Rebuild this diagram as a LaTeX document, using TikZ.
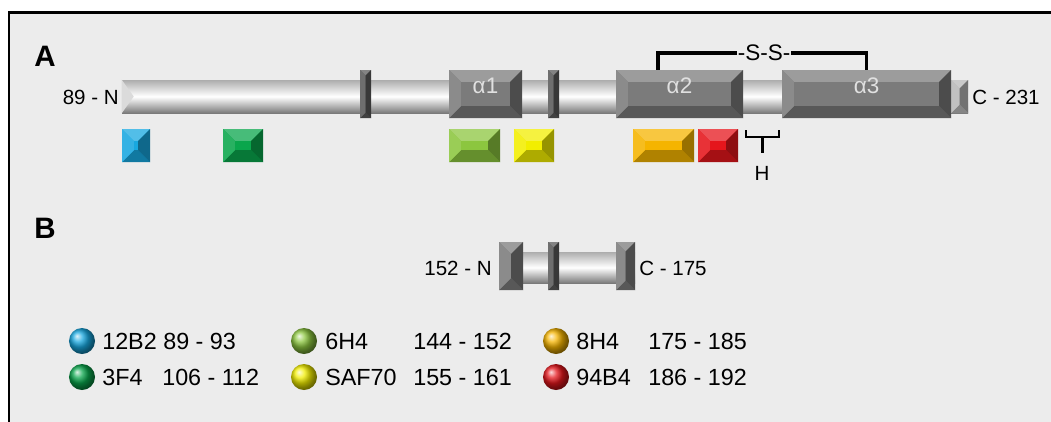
\documentclass[tikz,border=0pt]{standalone}
\usepackage{fontspec}
\setmainfont{Liberation Sans}
\usetikzlibrary{fit, calc}

\definecolor{panelbg}{HTML}{ECECEC}
\definecolor{helixgray}{HTML}{7B7B7B}
\definecolor{loopgray}{HTML}{5A5A5A}
\definecolor{termgray}{HTML}{B8B8B8}
\definecolor{epiblue}{HTML}{18A8E0}
\definecolor{epigreen}{HTML}{0AA64C}
\definecolor{epilime}{HTML}{8CC63F}
\definecolor{epiyellow}{HTML}{F2EE00}
\definecolor{epiorange}{HTML}{F5B400}
\definecolor{epired}{HTML}{E5161C}

\begin{document}
\begin{tikzpicture}[
    x=0.025cm, y=-0.025cm,
    bevel/.style={fill=#1, inner sep=0pt, path picture={
        \fill[#1!75!white] let \p1=(path picture bounding box.south west),
            \p2=(path picture bounding box.north east),
            \n1={min(8.5pt,(\x2-\x1)/2,(\y2-\y1)/2)} in
            (\x1,\y2) -- (\x2,\y2) -- (\x2-\n1,\y2-\n1) -- (\x1+\n1,\y2-\n1) -- cycle;
        \fill[#1!72!black] let \p1=(path picture bounding box.south west),
            \p2=(path picture bounding box.north east),
            \n1={min(8.5pt,(\x2-\x1)/2,(\y2-\y1)/2)} in
            (\x1,\y1) -- (\x2,\y1) -- (\x2-\n1,\y1+\n1) -- (\x1+\n1,\y1+\n1) -- cycle;
        \fill[#1!88!white] let \p1=(path picture bounding box.south west),
            \p2=(path picture bounding box.north east),
            \n1={min(8.5pt,(\x2-\x1)/2,(\y2-\y1)/2)} in
            (\x1,\y1) -- (\x1,\y2) -- (\x1+\n1,\y2-\n1) -- (\x1+\n1,\y1+\n1) -- cycle;
        \fill[#1!62!black] let \p1=(path picture bounding box.south west),
            \p2=(path picture bounding box.north east),
            \n1={min(8.5pt,(\x2-\x1)/2,(\y2-\y1)/2)} in
            (\x2,\y1) -- (\x2,\y2) -- (\x2-\n1,\y2-\n1) -- (\x2-\n1,\y1+\n1) -- cycle;
    }},
    helix/.style={bevel=helixgray, text=white!88!black,
                  font=\fontsize{16}{18}\selectfont},
    loopsep/.style={bevel=loopgray},
    epitope/.style={bevel=#1},
    rod/.style={inner sep=0pt, top color=black!32, bottom color=black!52,
                middle color=white},
    lbl/.style={inner sep=0pt, font=\fontsize{14.6}{16}\selectfont},
    legend/.style={inner sep=0pt, anchor=west, font=\fontsize{16.6}{19}\selectfont},
    panel/.style={inner sep=0pt, anchor=west, font=\bfseries\fontsize{21}{24}\selectfont},
    ball/.style={circle, shade, ball color=#1, inner sep=0pt, minimum size=0.65cm},
    bond/.style={line width=2.6pt},
    hbr/.style={line width=1.5pt},
]

% =================================================================
%  FRAME
% =================================================================
\useasboundingbox (0,0) rectangle (1051,421);
\fill[white] (0,0) rectangle (1051,421);
\draw[line width=1.5pt, fill=panelbg] (9,12.5) rectangle (1070,440);

\node[panel] (labA) at (34,56)  {A};
\node[panel] (labB) at (34,228) {B};

% =================================================================
%  A: full length construct
% =================================================================
\node[rod, fit={(122,80) (968,113)}] (rodA) {};
\fill[black!14] (rodA.north west) -- ($(rodA.west)+(12,0)$) -- (rodA.south west) -- cycle;
\node[bevel=termgray, fit={(951,80) (968,113)}] (cterm) {};

\node[loopsep, fit={(360,70) (371,118)}] (s1) {};
\node[loopsep, fit={(548,70) (559,118)}] (s2) {};
\node[helix, fit={(449,70) (522,118)}] (a1) {α1};
\node[helix, fit={(616,70) (743,118)}] (a2) {α2};
\node[helix, fit={(782,70) (951,118)}] (a3) {α3};

\node[lbl, anchor=east] (nA) at (119,97) {89 - N};
\node[lbl, anchor=west] (cA) at (972,97) {C - 231};

% disulfide bridge
\coordinate (ssL) at ($(a2.north west)!0.33!(a2.north east)$);
\node[lbl, font=\fontsize{16}{18}\selectfont] (ss) at (764,53) {-S-S-};
\draw[bond] (ssL) |- (ss.west);
\draw[bond] (a3.north) |- (ss.east);

% epitopes
\node[epitope=epiblue,   fit={(122,129) (150,162)}] (e12B2)  {};
\node[epitope=epigreen,  fit={(223,129) (263,162)}] (e3F4)   {};
\node[epitope=epilime,   fit={(449,129) (500,162)}] (e6H4)   {};
\node[epitope=epiyellow, fit={(514,129) (554,162)}] (eSAF70) {};
\node[epitope=epiorange, fit={(633,129) (694,162)}] (e8H4)   {};
\node[epitope=epired,    fit={(698,129) (738,162)}] (e94B4)  {};

% H region
\coordinate (hA) at (746,130);
\coordinate (hB) at (779,130);
\draw[hbr] (hA) -- ++(0,7) -| (hB);
\draw[hbr] ($(hA)!0.5!(hB)+(0,7)$) -- ++(0,16);
\node[lbl] (hlbl) at (762,173) {H};

% =================================================================
%  B: short construct
% =================================================================
\node[rod, fit={(499,252) (635,283)}] (rodB) {};
\node[helix, fit={(499,242) (523,290)}] (capN) {};
\node[loopsep, fit={(548,242) (559,290)}] (sB) {};
\node[helix, fit={(616,242) (635,290)}] (capC) {};

\node[lbl, anchor=east] (nB) at (492,268) {152 - N};
\node[lbl, anchor=west] (cB) at (639,268) {C - 175};

% =================================================================
%  LEGEND
% =================================================================
\node[ball=epiblue]   (k12B2)  at (82,341)  {};
\node[ball=epigreen]  (k3F4)   at (82,377)  {};
\node[ball=epilime]   (k6H4)   at (304,341) {};
\node[ball=epiyellow] (kSAF70) at (304,377) {};
\node[ball=epiorange] (k8H4)   at (556,341) {};
\node[ball=epired]    (k94B4)  at (556,377) {};

\node[legend] at (102,341) {12B2};  \node[legend] at (163,341) {89 - 93};
\node[legend] at (102,377) {3F4};   \node[legend] at (162,377) {106 - 112};
\node[legend] at (325,341) {6H4};   \node[legend] at (413,341) {144 - 152};
\node[legend] at (325,377) {SAF70}; \node[legend] at (413,377) {155 - 161};
\node[legend] at (576,341) {8H4};   \node[legend] at (648,341) {175 - 185};
\node[legend] at (576,377) {94B4};  \node[legend] at (648,377) {186 - 192};

\end{tikzpicture}
\end{document}
